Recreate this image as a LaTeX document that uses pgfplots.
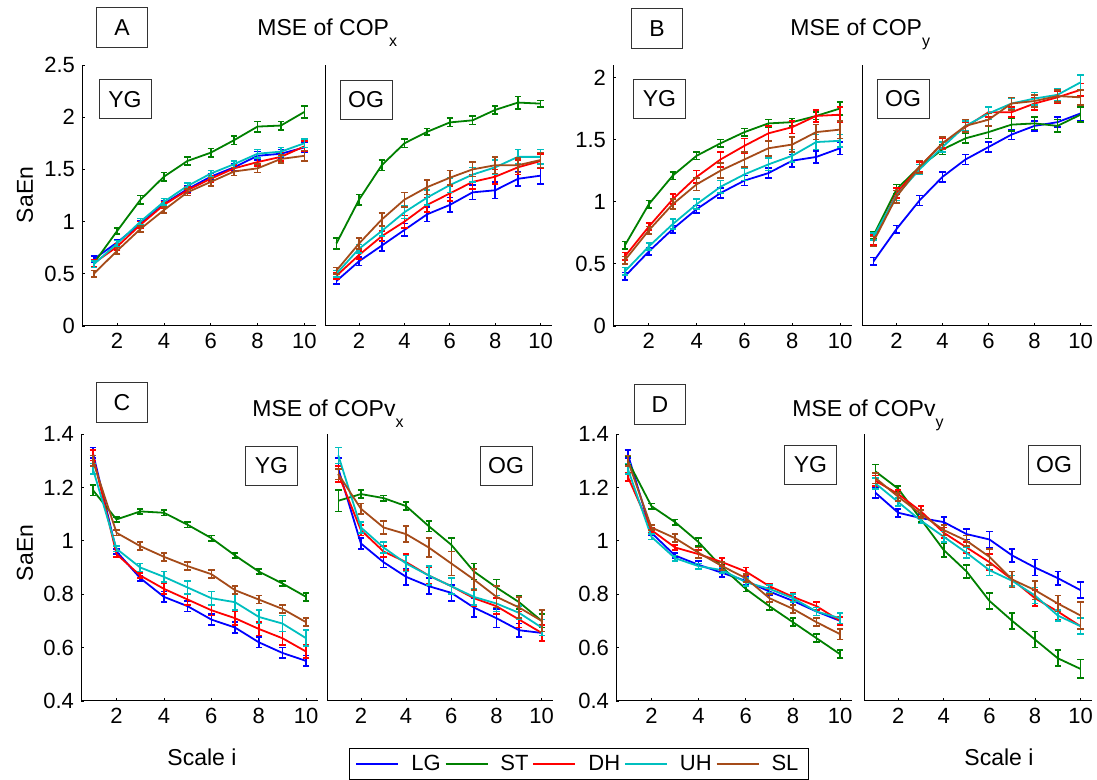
\documentclass[border=0pt]{standalone}
\usepackage{fontspec}
\setmainfont{Liberation Sans}
\usepackage{pgfplots}
\usepackage{pgfplotstable}
\pgfplotsset{compat=1.18}
\definecolor{cLG}{RGB}{0,0,255}
\definecolor{cST}{RGB}{0,128,0}
\definecolor{cDH}{RGB}{255,0,0}
\definecolor{cUH}{RGB}{0,191,191}
\definecolor{cSL}{RGB}{165,75,25}

\pgfplotstableread{
x LG eLG ST eST DH eDH UH eUH SL eSL
1 0.64 0.03 0.60 0.03 0.60 0.03 0.59 0.03 0.50 0.03
2 0.80 0.03 0.91 0.03 0.76 0.03 0.79 0.03 0.72 0.03
3 0.98 0.03 1.21 0.04 0.97 0.03 1.00 0.03 0.93 0.03
4 1.17 0.03 1.43 0.04 1.16 0.03 1.19 0.03 1.11 0.03
5 1.31 0.03 1.58 0.04 1.30 0.03 1.34 0.03 1.28 0.03
6 1.43 0.03 1.66 0.04 1.41 0.03 1.46 0.03 1.38 0.04
7 1.52 0.03 1.78 0.04 1.51 0.03 1.55 0.03 1.48 0.04
8 1.63 0.04 1.91 0.05 1.57 0.04 1.65 0.04 1.51 0.04
9 1.65 0.04 1.92 0.04 1.62 0.04 1.67 0.04 1.60 0.04
10 1.71 0.05 2.05 0.06 1.72 0.05 1.75 0.04 1.63 0.05
}\tabAy
\pgfplotstableread{
x LG eLG ST eST DH eDH UH eUH SL eSL
1 0.43 0.03 0.79 0.05 0.48 0.03 0.50 0.03 0.53 0.03
2 0.62 0.04 1.21 0.05 0.68 0.04 0.74 0.04 0.79 0.05
3 0.77 0.05 1.54 0.05 0.86 0.05 0.91 0.05 1.02 0.06
4 0.92 0.06 1.75 0.04 1.00 0.06 1.09 0.06 1.21 0.07
5 1.07 0.07 1.86 0.03 1.16 0.07 1.23 0.07 1.33 0.07
6 1.16 0.07 1.95 0.04 1.27 0.07 1.35 0.07 1.42 0.07
7 1.28 0.07 1.97 0.04 1.38 0.07 1.45 0.07 1.50 0.07
8 1.30 0.08 2.07 0.04 1.43 0.07 1.52 0.07 1.54 0.08
9 1.41 0.07 2.14 0.06 1.52 0.07 1.62 0.07 1.54 0.07
10 1.44 0.08 2.13 0.03 1.58 0.07 1.62 0.07 1.59 0.07
}\tabAo
\pgfplotstableread{
x LG eLG ST eST DH eDH UH eUH SL eSL
1 0.40 0.03 0.65 0.03 0.56 0.03 0.44 0.03 0.53 0.03
2 0.60 0.03 0.98 0.03 0.80 0.03 0.64 0.03 0.77 0.03
3 0.78 0.03 1.21 0.03 1.02 0.04 0.82 0.04 0.98 0.04
4 0.94 0.03 1.37 0.03 1.20 0.05 0.98 0.04 1.14 0.05
5 1.07 0.04 1.47 0.03 1.34 0.06 1.12 0.05 1.25 0.06
6 1.17 0.04 1.56 0.03 1.45 0.06 1.22 0.05 1.34 0.06
7 1.23 0.04 1.63 0.03 1.55 0.06 1.30 0.05 1.43 0.06
8 1.33 0.05 1.64 0.03 1.60 0.05 1.37 0.05 1.46 0.06
9 1.36 0.05 1.69 0.03 1.69 0.05 1.48 0.06 1.56 0.06
10 1.43 0.05 1.75 0.05 1.70 0.06 1.49 0.05 1.58 0.07
}\tabBy
\pgfplotstableread{
x LG eLG ST eST DH eDH UH eUH SL eSL
1 0.52 0.03 0.73 0.03 0.69 0.04 0.72 0.03 0.68 0.04
2 0.78 0.03 1.10 0.04 1.07 0.04 1.05 0.04 1.04 0.05
3 1.01 0.04 1.28 0.04 1.28 0.04 1.26 0.04 1.28 0.05
4 1.20 0.04 1.42 0.04 1.47 0.04 1.44 0.04 1.47 0.05
5 1.34 0.04 1.51 0.04 1.60 0.04 1.61 0.04 1.61 0.05
6 1.44 0.04 1.56 0.05 1.72 0.04 1.71 0.05 1.66 0.05
7 1.54 0.04 1.62 0.05 1.72 0.04 1.79 0.04 1.79 0.05
8 1.61 0.04 1.63 0.05 1.79 0.05 1.83 0.05 1.81 0.05
9 1.64 0.04 1.61 0.05 1.84 0.05 1.86 0.05 1.85 0.05
10 1.71 0.06 1.70 0.06 1.90 0.05 1.96 0.06 1.84 0.06
}\tabBo
\pgfplotstableread{
x LG eLG ST eST DH eDH UH eUH SL eSL
1 1.33 0.02 1.19 0.02 1.32 0.02 1.27 0.02 1.30 0.02
2 0.96 0.01 1.08 0.01 0.95 0.01 0.97 0.01 1.03 0.01
3 0.86 0.01 1.11 0.01 0.87 0.01 0.90 0.015 0.98 0.015
4 0.79 0.02 1.105 0.01 0.82 0.02 0.865 0.02 0.94 0.015
5 0.755 0.02 1.06 0.01 0.78 0.02 0.825 0.025 0.905 0.015
6 0.705 0.02 1.01 0.01 0.74 0.02 0.785 0.025 0.875 0.015
7 0.675 0.02 0.945 0.01 0.71 0.025 0.77 0.03 0.815 0.015
8 0.62 0.02 0.885 0.01 0.67 0.025 0.715 0.025 0.78 0.015
9 0.58 0.02 0.84 0.01 0.635 0.025 0.69 0.03 0.745 0.015
10 0.55 0.02 0.79 0.015 0.585 0.025 0.635 0.03 0.695 0.015
}\tabCy
\pgfplotstableread{
x LG eLG ST eST DH eDH UH eUH SL eSL
1 1.27 0.04 1.15 0.04 1.25 0.03 1.32 0.03 1.25 0.02
2 0.99 0.02 1.175 0.015 1.04 0.02 1.05 0.02 1.12 0.02
3 0.92 0.02 1.16 0.01 0.96 0.02 0.975 0.02 1.05 0.025
4 0.865 0.03 1.13 0.015 0.92 0.03 0.915 0.03 1.025 0.03
5 0.83 0.03 1.055 0.02 0.87 0.03 0.87 0.035 0.975 0.035
6 0.805 0.03 0.985 0.025 0.83 0.03 0.83 0.03 0.915 0.045
7 0.75 0.035 0.885 0.03 0.785 0.03 0.79 0.03 0.855 0.04
8 0.71 0.035 0.825 0.03 0.755 0.03 0.765 0.03 0.79 0.04
9 0.665 0.025 0.77 0.025 0.705 0.03 0.73 0.025 0.75 0.04
10 0.655 0.03 0.70 0.025 0.655 0.03 0.675 0.03 0.70 0.04
}\tabCo
\pgfplotstableread{
x LG eLG ST eST DH eDH UH eUH SL eSL
1 1.325 0.015 1.30 0.015 1.24 0.015 1.27 0.02 1.30 0.02
2 1.03 0.01 1.13 0.01 1.04 0.01 1.015 0.01 1.05 0.01
3 0.945 0.01 1.07 0.01 0.975 0.01 0.935 0.01 1.01 0.015
4 0.91 0.015 0.995 0.015 0.95 0.015 0.905 0.01 0.955 0.02
5 0.88 0.015 0.90 0.01 0.92 0.015 0.89 0.01 0.905 0.015
6 0.85 0.015 0.82 0.01 0.885 0.015 0.845 0.015 0.86 0.015
7 0.81 0.015 0.755 0.015 0.83 0.01 0.82 0.015 0.785 0.015
8 0.775 0.015 0.695 0.015 0.79 0.015 0.785 0.015 0.745 0.015
9 0.735 0.015 0.635 0.015 0.755 0.015 0.735 0.015 0.695 0.015
10 0.70 0.015 0.575 0.015 0.70 0.015 0.71 0.02 0.65 0.02
}\tabDy
\pgfplotstableread{
x LG eLG ST eST DH eDH UH eUH SL eSL
1 1.18 0.02 1.26 0.025 1.225 0.02 1.215 0.02 1.235 0.02
2 1.105 0.015 1.195 0.01 1.175 0.015 1.145 0.015 1.165 0.015
3 1.085 0.015 1.08 0.01 1.11 0.02 1.075 0.01 1.10 0.015
4 1.07 0.02 0.965 0.025 1.03 0.02 1.015 0.02 1.04 0.02
5 1.025 0.02 0.885 0.025 0.975 0.02 0.955 0.02 1.00 0.02
6 1.005 0.03 0.775 0.03 0.92 0.03 0.89 0.02 0.94 0.03
7 0.945 0.025 0.70 0.03 0.855 0.03 0.85 0.02 0.855 0.03
8 0.90 0.03 0.63 0.03 0.785 0.03 0.795 0.03 0.815 0.035
9 0.86 0.025 0.56 0.03 0.735 0.03 0.72 0.02 0.765 0.03
10 0.815 0.03 0.52 0.035 0.68 0.03 0.68 0.03 0.72 0.05
}\tabDo

\pgfplotsset{
  panel/.style={scale only axis, anchor=south west, axis lines*=left,
    xmin=0.5, xmax=10.5, xtick={2,4,6,8,10},
    tick align=inside, major tick length=1.5pt,
    tick style={black, line width=0.4pt},
    axis line style={black, line width=0.5pt},
    tick label style={font=\fontsize{11}{13}\selectfont},
    /pgf/number format/assume math mode=true, clip=false},
  top/.style={height=130.5pt, ymin=0},
  bot/.style={height=133.5pt, ymin=0.4, ymax=1.4, ytick={0.4,0.6,...,1.41}},
  og/.style={ytick=\empty},
  ser/.style={line width=0.9pt, mark=none,
    error bars/y dir=both, error bars/y explicit,
    error bars/error mark=|,
    error bars/error bar style={line width=0.8pt},
    error bars/error mark options={line width=0.8pt, mark size=1.6pt}},
}
\newcommand{\five}[1]{%
  \addplot[ser, cLG] table[x=x, y=LG, y error=eLG] {#1};
  \addplot[ser, cST] table[x=x, y=ST, y error=eST] {#1};
  \addplot[ser, cDH] table[x=x, y=DH, y error=eDH] {#1};
  \addplot[ser, cUH] table[x=x, y=UH, y error=eUH] {#1};
  \addplot[ser, cSL] table[x=x, y=SL, y error=eSL] {#1};
}
\tikzset{lbox/.style={draw=black!80, line width=0.5pt, minimum width=26pt, minimum height=19.5pt, inner sep=0pt, font=\fontsize{11.5}{13}\selectfont},
  ttl/.style={anchor=base west, inner sep=0pt, font=\fontsize{11.5}{13}\selectfont}}

\begin{document}
\begin{tikzpicture}[x=0.5pt, y=0.5pt]
\useasboundingbox (0,0) rectangle (1097,780);

% A
\begin{axis}[panel, top, at={(41pt,227pt)}, width=117pt, ymax=2.5, ytick={0,0.5,...,2.51}]
\five{\tabAy}
\end{axis}
\begin{axis}[panel, top, og, at={(162.5pt,227pt)}, width=113.5pt, ymax=2.5]
\five{\tabAo}
\end{axis}
% B
\begin{axis}[panel, top, at={(306.5pt,227pt)}, width=119.5pt, ymax=2.1, ytick={0,0.5,...,2.01}]
\five{\tabBy}
\end{axis}
\begin{axis}[panel, top, og, at={(431pt,227pt)}, width=115pt, ymax=2.1]
\five{\tabBo}
\end{axis}
% C
\begin{axis}[panel, bot, at={(40.5pt,39.5pt)}, width=118.5pt]
\five{\tabCy}
\end{axis}
\begin{axis}[panel, bot, og, at={(163.5pt,39.5pt)}, width=113pt,
  legend columns=5,
  legend style={at={(axis description cs:1.115,-0.236)}, anchor=center,
    draw=black, line width=0.5pt, font=\fontsize{11}{13}\selectfont,
    inner ysep=1pt, inner xsep=3pt,
    /tikz/every odd column/.append style={column sep=4pt}},
  legend image code/.code={\draw[#1] (0pt,0pt) -- (21pt,0pt);}]
\five{\tabCo}
\legend{LG,ST,DH,UH,SL}
\end{axis}
% D
\begin{axis}[panel, bot, at={(308pt,39.5pt)}, width=118pt]
\five{\tabDy}
\end{axis}
\begin{axis}[panel, bot, og, at={(432pt,39.5pt)}, width=114pt]
\five{\tabDo}
\end{axis}

% panel letters
\node[lbox, minimum width=25.5pt, minimum height=20pt] at (122,752) {A};
\node[lbox, minimum width=25.5pt, minimum height=20pt] at (657,751) {B};
\node[lbox, minimum width=25.5pt, minimum height=20pt] at (122,377) {C};
\node[lbox, minimum width=25.5pt, minimum height=20pt] at (660,375) {D};
% titles
\node[ttl] at (257,744) {MSE of COP\raisebox{-5.5pt}{\fontsize{8}{9}\selectfont x}};
\node[ttl] at (790,744) {MSE of COP\raisebox{-5.5pt}{\fontsize{8}{9}\selectfont y}};
\node[ttl] at (252,363) {MSE of COPv\raisebox{-5.5pt}{\fontsize{8}{9}\selectfont x}};
\node[ttl] at (792,363) {MSE of COPv\raisebox{-5.5pt}{\fontsize{8}{9}\selectfont y}};
% group boxes
\node[lbox] at (125,680.5) {YG};
\node[lbox] at (366,680) {OG};
\node[lbox] at (659.5,681) {YG};
\node[lbox] at (903,681) {OG};
\node[lbox] at (271.5,314) {YG};
\node[lbox] at (506,314) {OG};
\node[lbox] at (810.5,315) {YG};
\node[lbox] at (1054,315) {OG};
% axis labels
\node[rotate=90, font=\fontsize{11.5}{13}\selectfont] at (25,585) {SaEn};
\node[rotate=90, font=\fontsize{11.5}{13}\selectfont] at (25,227) {SaEn};
\node[font=\fontsize{11.5}{13}\selectfont] at (202,23) {Scale i};
\node[font=\fontsize{11.5}{13}\selectfont] at (999,23) {Scale i};
\end{tikzpicture}
\end{document}
